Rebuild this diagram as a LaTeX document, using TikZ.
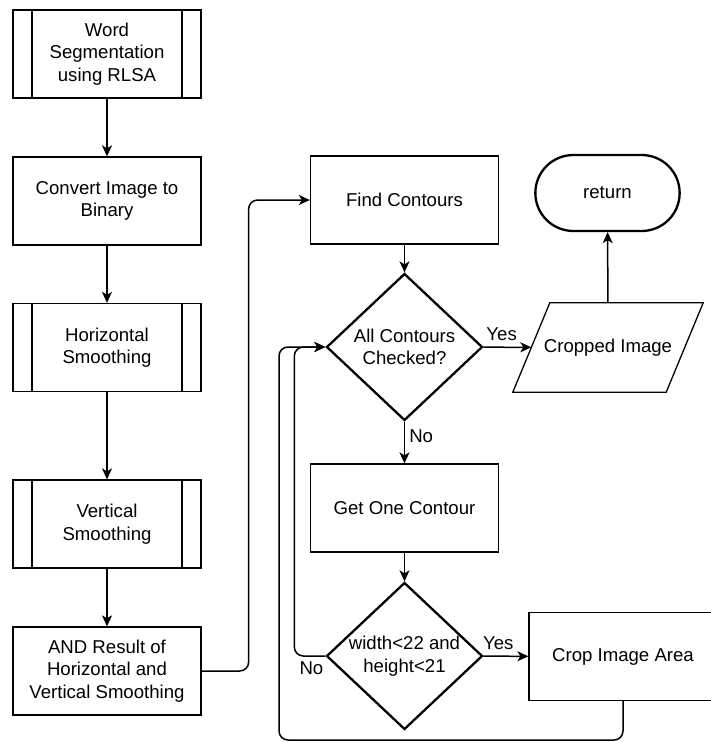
\documentclass[tikz,border=0pt]{standalone}
\usepackage{fontspec}
\setmainfont{Liberation Sans}
\usepackage{tikz}
\usetikzlibrary{arrows.meta,positioning}
\usetikzlibrary{shapes.geometric,shapes.misc}
\tikzset{every node/.style={font=\fontsize{18.6}{22.5}\selectfont}}
\tikzset{proc/.style={rectangle,draw=black,line width=1.3pt,minimum width=188pt,minimum height=88pt,align=center,inner sep=2pt}}
\tikzset{subproc/.style={proc,path picture={%
  \draw[line width=1.3pt] ([xshift=19pt]path picture bounding box.north west) -- ([xshift=19pt]path picture bounding box.south west);
  \draw[line width=1.3pt] ([xshift=-19pt]path picture bounding box.north east) -- ([xshift=-19pt]path picture bounding box.south east);}}}
\tikzset{decision/.style={diamond,draw=black,line width=2.3pt,minimum width=156pt,minimum height=147pt,aspect=1.06,inner sep=0pt,align=center}}
\tikzset{inout/.style={rectangle,minimum width=153pt,minimum height=89pt,inner sep=0pt}}
\tikzset{ioline/.style={draw=black,line width=1.3pt,line join=miter}}
\tikzset{terminal/.style={rounded rectangle,draw=black,line width=2.3pt,minimum width=151pt,minimum height=76pt}}
\tikzset{flow/.style={line width=1.5pt,-{Stealth[length=11pt,width=10pt,inset=3pt]},rounded corners=9pt}}

\begin{document}
\begin{tikzpicture}[x=1pt,y=-1pt]
\useasboundingbox (0,0) rectangle (710,742);
% left column
\node (ws) [subproc] at (107,54) {Word\\Segmentation\\using RLSA};
\node (bin) [proc] at (107,201) {Convert Image to\\Binary};
\node (hs) [subproc] at (107,347.5) {Horizontal\\Smoothing};
\node (vs) [subproc] at (107,524) {Vertical\\Smoothing};
\node (andr) [proc] at (107,671) {AND Result of\\Horizontal and\\Vertical Smoothing};
% right part
\node (fc) [proc] at (404.5,200) {Find Contours};
\node (chk) [decision] at (404.5,347) {All Contours\\Checked?};
\node (cimg) [inout] at (608,347.5) {Cropped Image};
\node (ret) [terminal] at (607.5,193) {return};
\node (goc) [proc] at (404.5,508) {Get One Contour};
\node (size) [decision] at (404.5,656) {width<22 and\\height<21};
\node (crop) [proc] at (623,656.5) {Crop Image Area};
\coordinate (loopb) at (279,740);
% parallelogram round the output node
\path[ioline] ([xshift=18.5pt]cimg.north west) -- ([xshift=18.5pt]cimg.north east)
  -- ([xshift=-18.5pt]cimg.south east) -- ([xshift=-18.5pt]cimg.south west) -- cycle;
%
\path[flow] (ws) edge (bin);
\path[flow] (bin) edge (hs);
\path[flow] (hs) edge (vs);
\path[flow] (vs) edge (andr);
\draw[flow] (andr.east) -- ++(47,0) |- (fc.west);
\path[flow] (fc) edge (chk);
\path[flow] (chk) edge node[above,pos=0.38,inner sep=6pt] {Yes} (cimg);
\path[flow] (cimg) edge (ret);
\path[flow] (chk) edge node[right,pos=0.36,inner sep=4pt] {No} (goc);
\path[flow] (goc) edge (size);
\path[flow] (size) edge node[above,pos=0.33,inner sep=6pt] {Yes} (crop);
\draw[flow] (size.west) -- ++(-31,0) node[below,pos=0.45,inner sep=5pt] {No} |- (chk.west);
\draw[flow] (crop.south) |- (loopb) |- (chk.west);
\end{tikzpicture}
\end{document}
